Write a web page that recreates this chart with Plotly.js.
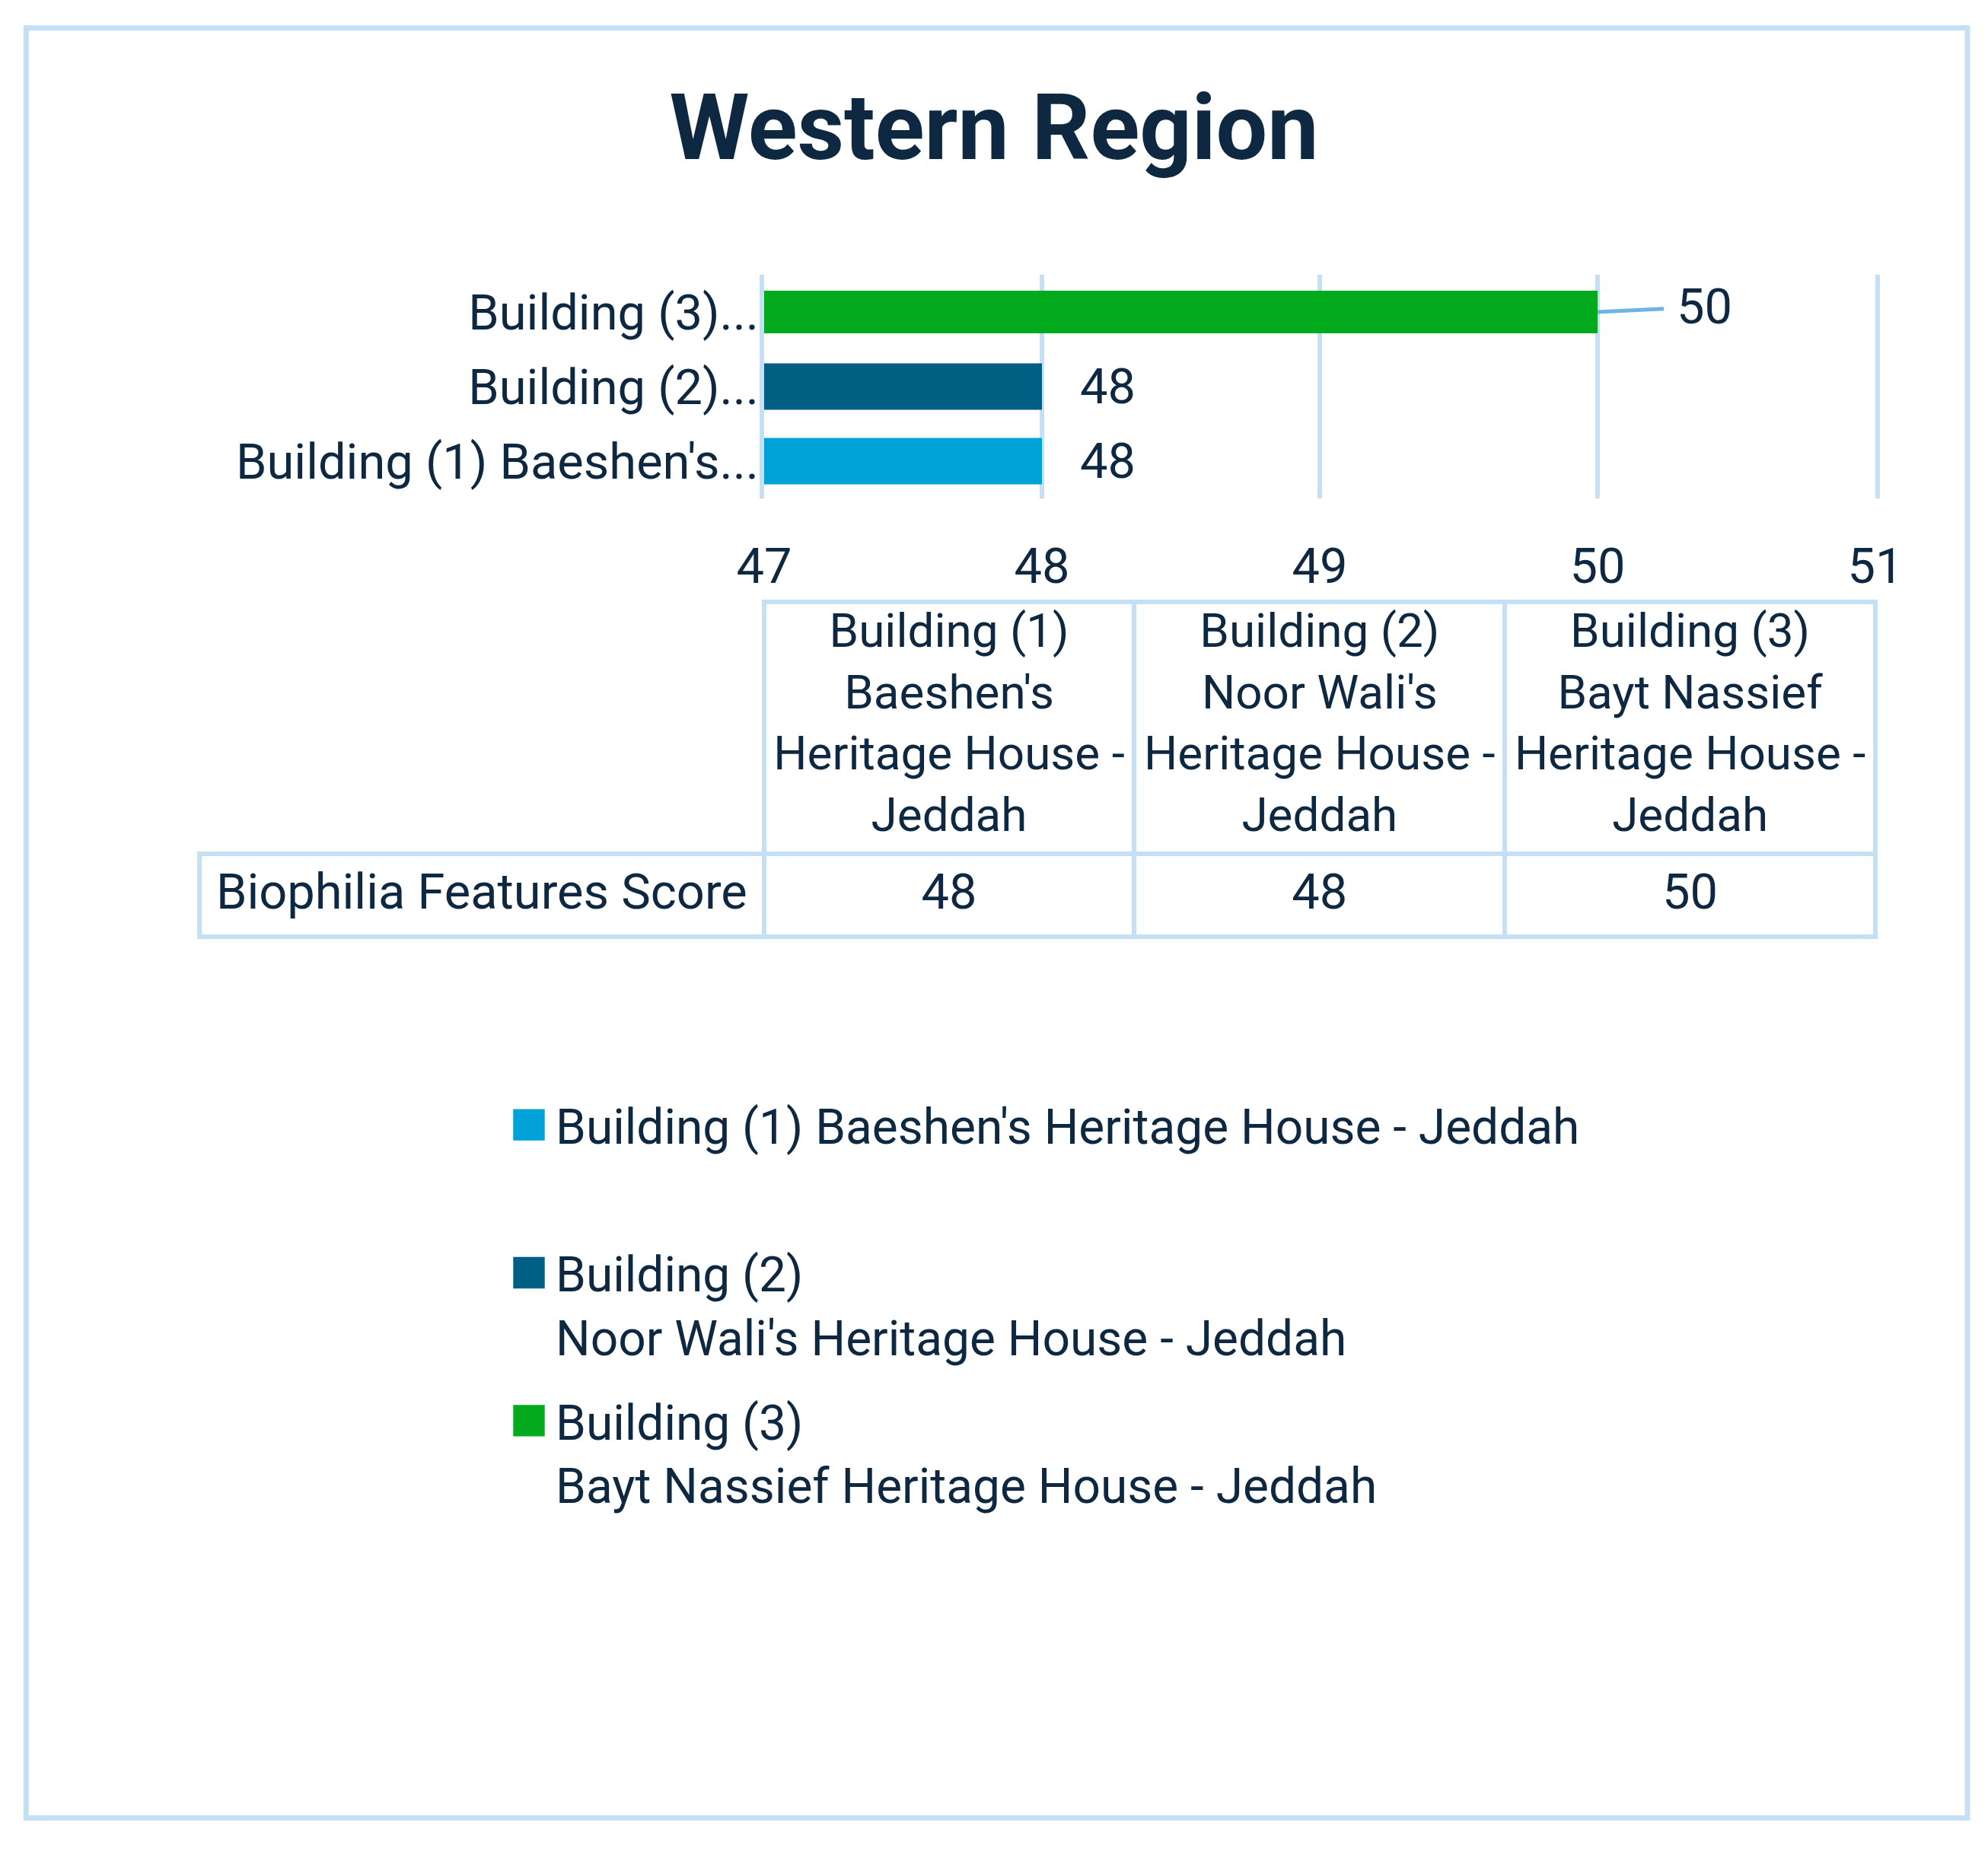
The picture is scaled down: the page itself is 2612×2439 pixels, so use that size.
<!DOCTYPE html>
<html>
<head>
<meta charset="utf-8">
<script src="https://cdn.plot.ly/plotly-3.0.1.min.js"></script>
<style>
  html, body { margin: 0; padding: 0; background: #ffffff; }
  #chart { width: 2612px; height: 2439px; }
</style>
</head>
<body>
<div id="chart"></div>
<script>
// ---- data ----
const categories = [
  "Building (1) Baeshen's Heritage House - Jeddah",
  "Building (2) Noor Wali's Heritage House - Jeddah",
  "Building (3) Bayt Nassief Heritage House - Jeddah"
];
const scores = [48, 48, 50];
const tickLabels = ["Building (1) Baeshen's...", "Building (2)...", "Building (3)..."];
const legendNames = [
  "Building (1) Baeshen's Heritage House - Jeddah<br>\u00a0",
  "Building (2)<br>Noor Wali's Heritage House - Jeddah",
  "Building (3)<br>Bayt Nassief Heritage House - Jeddah"
];
const tableHeaders = [
  "Building (1)<br>Baeshen's<br>Heritage\u00a0House\u00a0-<br>Jeddah",
  "Building (2)<br>Noor Wali's<br>Heritage\u00a0House\u00a0-<br>Jeddah",
  "Building (3)<br>Bayt Nassief<br>Heritage\u00a0House\u00a0-<br>Jeddah"
];
const rowLabel = "Biophilia Features Score";
const xTicks = [47, 48, 49, 50, 51];

// ---- styles ----
const barColors = ['#00A2D8', '#005F83', '#03AA1E'];
const textColor = '#0E2841';
const lineColor = '#C5E0F4';
const FONT = 'Roboto, "Noto Sans", sans-serif';

const traces = categories.map((c, i) => ({
  type: 'bar',
  orientation: 'h',
  x: [scores[i]],
  y: [c],
  name: legendNames[i],
  legendgroup: 'g' + i,
  width: i === 2 ? 0.57 : 0.62,
  marker: { color: barColors[i], line: { width: 0 } },
  hoverinfo: 'x+y'
}));

traces.push({
  type: 'table',
  domain: { x: [262 / 2612, 2464 / 2612], y: [0.35, 1 - 791 / 2439] },
  columnwidth: [742, 487, 487, 487],
  header: {
    values: [''].concat(tableHeaders),
    align: 'center',
    height: 329,
    font: { family: FONT, size: 62, color: textColor },
    line: { color: ['rgba(0,0,0,0)', lineColor, lineColor, lineColor], width: 6 },
    fill: { color: ['rgba(0,0,0,0)', '#ffffff', '#ffffff', '#ffffff'] }
  },
  cells: {
    values: [[rowLabel]].concat(scores.map(v => [v])),
    align: 'center',
    height: 109,
    font: { family: FONT, size: 65, color: textColor },
    line: { color: lineColor, width: 6 },
    fill: { color: '#ffffff' }
  }
});

const annotations = scores.map((v, i) => {
  if (i === 2) {
    return {
      x: v, y: categories[i], xref: 'x', yref: 'y',
      text: String(v), showarrow: true, arrowhead: 0, arrowwidth: 5,
      arrowcolor: '#6CB4E4', ax: 140, ay: -7, standoff: 0, borderpad: 16,
      font: { family: FONT, size: 65, color: textColor }
    };
  }
  return {
    x: v, y: categories[i], xref: 'x', yref: 'y',
    text: String(v), showarrow: false, xanchor: 'left', xshift: 48,
    font: { family: FONT, size: 65, color: textColor }
  };
});

const layout = {
  width: 2612,
  height: 2439,
  margin: { l: 0, r: 0, t: 0, b: 0 },
  paper_bgcolor: '#ffffff',
  plot_bgcolor: '#ffffff',
  font: { family: FONT, size: 64, color: textColor },
  title: {
    text: 'Western Region',
    font: { family: FONT, size: 120, weight: 'bold', color: textColor },
    x: 0.5, xanchor: 'center', xref: 'container',
    y: 1 - 167 / 2439, yanchor: 'middle', yref: 'container'
  },
  barmode: 'overlay',
  showlegend: true,
  xaxis: {
    domain: [1004 / 2612, 2464 / 2612],
    range: [47, 51],
    tickvals: xTicks,
    ticktext: xTicks.map(String),
    showgrid: true, gridcolor: lineColor, gridwidth: 6,
    zeroline: false, showline: false, ticks: '',
    ticklabelstandoff: 45,
    tickfont: { family: FONT, size: 65, color: textColor },
    fixedrange: true
  },
  yaxis: {
    domain: [1 - 655 / 2439, 1 - 361 / 2439],
    type: 'category',
    categoryorder: 'array',
    categoryarray: categories,
    tickvals: categories,
    ticktext: tickLabels,
    range: [-0.5, 2.5],
    showgrid: false, zeroline: false,
    showline: true, mirror: true, linecolor: lineColor, linewidth: 6,
    ticks: '',
    ticklabelstandoff: -12,
    tickfont: { family: FONT, size: 65, color: textColor },
    fixedrange: true
  },
  legend: {
    x: 660 / 2612, xanchor: 'left',
    y: 1 - 1430 / 2439, yanchor: 'top',
    valign: 'top',
    traceorder: 'grouped',
    tracegroupgap: 25,
    itemwidth: 60,
    bgcolor: 'rgba(0,0,0,0)',
    font: { family: FONT, size: 64, color: textColor },
    itemclick: false, itemdoubleclick: false
  },
  shapes: [{
    type: 'rect', xref: 'paper', yref: 'paper',
    x0: 34.3 / 2612, x1: 2585 / 2612, y0: 1 - 2389 / 2439, y1: 1 - 36.7 / 2439,
    line: { color: lineColor, width: 7 }, fillcolor: 'rgba(0,0,0,0)', layer: 'below'
  }],
  annotations: annotations
};

function polish(gd) {
  // larger legend swatches, as in the reference
  gd.querySelectorAll('.legend .legendpoints path').forEach(p => {
    if (p.dataset.scaled) return;
    const t = p.getAttribute('transform') || '';
    p.setAttribute('transform', t + ' scale(3.45)');
    p.dataset.scaled = '1';
  });
  gd.querySelectorAll('.table .cell-text').forEach(t => {
    const lines = t.querySelectorAll('tspan.line');
    if (lines.length >= 2) {
      // centre every line of the multi-line table headers
      const bb = t.getBBox();
      const cx = bb.x + bb.width / 2;
      t.setAttribute('text-anchor', 'middle');
      lines.forEach(l => l.setAttribute('x', cx));
    }
    if (t.dataset.shifted) return;
    const block = t.closest('.column-block');
    if (!block || !block.id) return;
    const dy = block.id === 'header' ? -7 : (block.id.indexOf('cells') === 0 ? 15 : 0);
    if (!dy) return;
    const tr = t.getAttribute('transform') || '';
    t.setAttribute('transform', tr + ' translate(0,' + dy + ')');
    t.dataset.shifted = '1';
  });
}

Plotly.newPlot('chart', traces, layout, { displayModeBar: false }).then(gd => {
  polish(gd);
  setTimeout(() => polish(gd), 200);
});
</script>
</body>
</html>
